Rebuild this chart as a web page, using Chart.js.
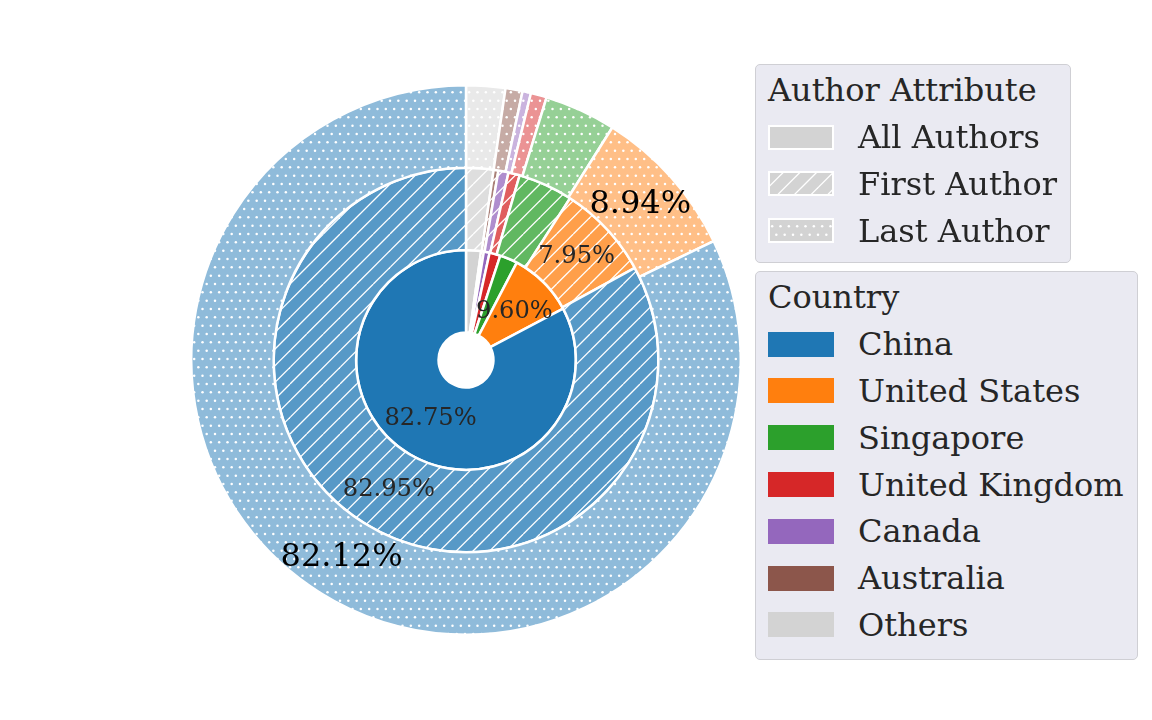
<!DOCTYPE html>
<html>
<head>
<meta charset="utf-8">
<script src="https://cdn.jsdelivr.net/npm/chart.js@4.4.1/dist/chart.umd.min.js"></script>
<style>
  body { margin: 0; background: #fff; width: 1152px; height: 720px; position: relative; overflow: hidden;
         font-family: "DejaVu Serif", serif; color: #262626; }
  #pieWrap { position: absolute; left: 190px; top: 84px; width: 552px; height: 552px; }
  .legend { position: absolute; background: #eaeaf2; border: 1.5px solid #cfcfd4; border-radius: 5px;
            box-sizing: border-box; padding: 2px 0 0 12px; }
  .row { height: 46.8px; display: flex; align-items: center; font-size: 32px; white-space: nowrap; }
  .row .sw { width: 66px; height: 25px; margin-right: 24px; flex: none; }
  .row canvas.sw { display: block; }
</style>
</head>
<body>
<div id="pieWrap"><canvas id="pie"></canvas></div>

<div class="legend" id="attrLegend" style="left:755px; top:64px; width:316px; height:199px;"></div>
<div class="legend" id="countryLegend" style="left:755px; top:271px; width:383px; height:389px;"></div>

<script>
// ---- data ----
const countries = ['China', 'United States', 'Singapore', 'United Kingdom', 'Canada', 'Australia', 'Others'];
const allAuthors = [82.75, 9.60, 2.60, 1.60, 0.85, 0.40, 2.20];
const firstAuthor = [82.95, 7.95, 4.60, 0.95, 0.85, 0.40, 2.30];
const lastAuthor = [82.12, 8.94, 4.20, 0.94, 0.50, 1.00, 2.30];
const attributes = ['All Authors', 'First Author', 'Last Author'];

const colors = ['#1f77b4', '#ff7f0e', '#2ca02c', '#d62728', '#9467bd', '#8c564b', '#d3d3d3'];

// mix a colour with white (alpha over white background)
function blend(hex, a) {
  var r = parseInt(hex.substr(1, 2), 16), g = parseInt(hex.substr(3, 2), 16), b = parseInt(hex.substr(5, 2), 16);
  r = Math.round(r * a + 255 * (1 - a));
  g = Math.round(g * a + 255 * (1 - a));
  b = Math.round(b * a + 255 * (1 - a));
  return 'rgb(' + r + ',' + g + ',' + b + ')';
}

// hatch tiles: '/' lines every 16.67px, '..' dots every 8.33px (staggered rows)
function makeTile(base, kind) {
  var c = document.createElement('canvas');
  c.width = 50; c.height = 50;
  var ctx = c.getContext('2d');
  ctx.fillStyle = base;
  ctx.fillRect(0, 0, 50, 50);
  ctx.strokeStyle = '#fff';
  ctx.fillStyle = '#fff';
  if (kind == 'line') {
    ctx.lineWidth = 1.3;
    for (var k = -3; k <= 3; k++) {
      var o = k * 50 / 3;
      ctx.beginPath();
      ctx.moveTo(o, 50);
      ctx.lineTo(o + 50, 0);
      ctx.stroke();
    }
  } else if (kind == 'dot') {
    var step = 50 / 6;
    for (var i = 0; i <= 6; i++) {
      var y = i * step;
      var x0 = (i % 2 == 0) ? 0 : step / 2;
      for (var x = x0; x <= 50.01; x += step) {
        ctx.beginPath();
        ctx.arc(x, y, 1.25, 0, Math.PI * 2);
        ctx.fill();
      }
    }
  }
  return c;
}

function makePattern(base, kind) {
  var tile = makeTile(base, kind);
  return document.getElementById('pie').getContext('2d').createPattern(tile, 'repeat');
}

// chart.js goes clockwise from the top, matplotlib went counter-clockwise -> reverse order
function rev(arr) { return arr.slice().reverse(); }

const ringDefs = [
  { label: 'Last Author', values: lastAuthor, alpha: 0.5, kind: 'dot', font: 32, color: '#000' },
  { label: 'First Author', values: firstAuthor, alpha: 0.75, kind: 'line', font: 24.2, color: '#262626' },
  { label: 'All Authors', values: allAuthors, alpha: 1.0, kind: 'none', font: 24.2, color: '#262626' }
];

var datasets = ringDefs.map(function (r) {
  return {
    label: r.label,
    data: rev(r.values),
    backgroundColor: rev(colors.map(function (c) {
      var base = blend(c, r.alpha);
      return r.kind == 'none' ? base : makePattern(base, r.kind);
    })),
    borderColor: '#ffffff',
    borderWidth: 2.5,
    hoverOffset: 0
  };
});

// percentage labels (only the big wedges, like autopct)
const pctLabels = {
  id: 'pctLabels',
  afterDatasetsDraw: function (chart) {
    var ctx = chart.ctx;
    ctx.save();
    ctx.textAlign = 'center';
    ctx.textBaseline = 'middle';
    chart.data.datasets.forEach(function (ds, di) {
      var meta = chart.getDatasetMeta(di);
      var def = ringDefs[di];
      meta.data.forEach(function (arc, i) {
        var v = ds.data[i];
        if (v < 5) return;
        var p = arc.getCenterPoint();
        ctx.font = def.font + 'px "DejaVu Serif"';
        ctx.fillStyle = def.color;
        ctx.fillText(v.toFixed(2) + '%', p.x, p.y);
      });
    });
    ctx.restore();
  }
};

new Chart(document.getElementById('pie'), {
  type: 'doughnut',
  data: { labels: rev(countries), datasets: datasets },
  options: {
    responsive: true,
    maintainAspectRatio: false,
    animation: false,
    cutout: '10%',
    layout: { padding: 0 },
    plugins: { legend: { display: false }, tooltip: { enabled: false } }
  },
  plugins: [pctLabels]
});

// ---- legends ----
function addRow(box, swatch, text) {
  var row = document.createElement('div');
  row.className = 'row';
  if (swatch) row.appendChild(swatch);
  var t = document.createElement('span');
  t.textContent = text;
  row.appendChild(t);
  box.appendChild(row);
}

var attrBox = document.getElementById('attrLegend');
addRow(attrBox, null, 'Author Attribute');
var kinds = ['none', 'line', 'dot'];
attributes.forEach(function (name, i) {
  var sw = document.createElement('canvas');
  sw.className = 'sw';
  sw.width = 66; sw.height = 25;
  var sctx = sw.getContext('2d');
  sctx.fillStyle = '#ffffff';
  sctx.fillRect(0, 0, 66, 25);
  var tile = makeTile('#d3d3d3', kinds[i]);
  sctx.fillStyle = sctx.createPattern(tile, 'repeat');
  sctx.fillRect(2, 2, 62, 21);
  addRow(attrBox, sw, name);
});

var countryBox = document.getElementById('countryLegend');
addRow(countryBox, null, 'Country');
countries.forEach(function (name, i) {
  var sw = document.createElement('div');
  sw.className = 'sw';
  sw.style.background = colors[i];
  addRow(countryBox, sw, name);
});
</script>
</body>
</html>
